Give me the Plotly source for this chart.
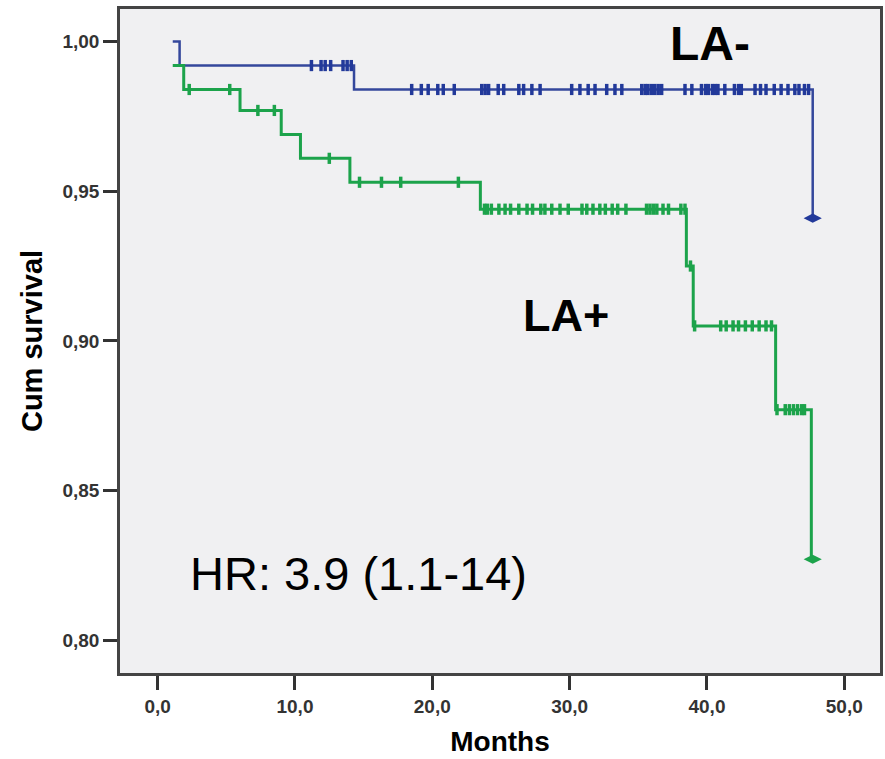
import numpy as np
import plotly.graph_objects as go

# ---------------- data ----------------
# LA- (blue) Kaplan-Meier steps
blue_times = [1.1, 1.6, 14.3, 47.7]
blue_surv = [1.000, 0.992, 0.984, 0.941]
blue_censor = [11.2, 11.9, 12.2, 12.6, 13.5, 13.8, 14.1,
               18.5, 19.2, 19.7, 20.4, 20.8, 21.6, 23.6, 23.85, 24.1, 24.8, 25.2,
               26.3, 26.65, 27.25, 27.85, 30.15, 30.75, 31.35, 31.85, 32.7, 33.3,
               33.8, 35.25, 35.5, 35.7, 35.95, 36.2, 36.45, 36.7, 38.4, 38.9, 39.6,
               39.9, 40.1, 40.4, 40.6, 40.8, 41.3, 42.0, 42.3, 42.5, 43.5, 43.9,
               44.3, 44.9, 45.4, 45.9, 46.4, 46.7, 47.1, 47.4]
blue_end = (47.7, 0.941)

# LA+ (green) Kaplan-Meier steps
green_times = [1.1, 1.9, 6.0, 9.0, 10.4, 14.0, 23.5, 38.5, 39.0, 45.0, 47.6]
green_surv = [0.992, 0.984, 0.977, 0.969, 0.961, 0.953, 0.944, 0.925, 0.905, 0.877, 0.827]
green_censor = [2.3, 5.25, 7.3, 8.5, 12.5, 14.7, 16.3, 17.7, 21.9,
                23.8, 24.0, 24.3, 24.85, 25.3, 25.7, 26.3, 26.9, 27.3, 27.9, 28.2,
                28.7, 29.3, 29.9, 30.9, 31.25, 31.7, 32.2, 32.6, 33.1, 33.5, 34.1,
                35.6, 35.85, 36.1, 36.35, 36.8, 37.2, 38.1, 38.4, 38.8, 39.1,
                41.0, 41.4, 41.9, 42.3, 42.8, 43.3, 43.8, 44.3, 44.7,
                45.1, 45.7, 46.0, 46.3, 46.6, 46.9, 47.1]
green_end = (47.7, 0.827)

x_ticks = [0, 10, 20, 30, 40, 50]
x_ticktext = ["0,0", "10,0", "20,0", "30,0", "40,0", "50,0"]
y_ticks = [0.80, 0.85, 0.90, 0.95, 1.00]
y_ticktext = ["0,80", "0,85", "0,90", "0,95", "1,00"]

labels = {"neg": "LA-", "pos": "LA+", "hr": "HR: 3.9 (1.1-14)"}

BLUE_LINE = "#34479c"
BLUE_MARK = "#22399a"
GREEN = "#1ca34b"


def level_at(times, surv, t):
    idx = np.searchsorted(np.array(times), t, side="right") - 1
    idx = max(idx, 0)
    return surv[idx]


fig = go.Figure()

fig.add_trace(go.Scatter(x=blue_times, y=blue_surv, mode="lines", line_shape="hv",
                         line=dict(color=BLUE_LINE, width=2.5), hoverinfo="skip",
                         showlegend=False, name="LA-"))
fig.add_trace(go.Scatter(x=green_times, y=green_surv, mode="lines", line_shape="hv",
                         line=dict(color=GREEN, width=3), hoverinfo="skip",
                         showlegend=False, name="LA+"))

fig.add_trace(go.Scatter(x=blue_censor,
                         y=[level_at(blue_times, blue_surv, t) for t in blue_censor],
                         mode="markers",
                         marker=dict(symbol="line-ns", size=8,
                                     line=dict(color=BLUE_MARK, width=3.5)),
                         showlegend=False, name="LA- censored"))
fig.add_trace(go.Scatter(x=green_censor,
                         y=[level_at(green_times, green_surv, t) for t in green_censor],
                         mode="markers",
                         marker=dict(symbol="line-ns", size=8,
                                     line=dict(color=GREEN, width=3.5)),
                         showlegend=False, name="LA+ censored"))
fig.add_trace(go.Scatter(x=[blue_end[0]], y=[blue_end[1]], mode="markers",
                         marker=dict(symbol="diamond-wide", size=13, color=BLUE_MARK),
                         showlegend=False))
fig.add_trace(go.Scatter(x=[green_end[0]], y=[green_end[1]], mode="markers",
                         marker=dict(symbol="diamond-wide", size=13, color=GREEN),
                         showlegend=False))

FONT = "Liberation Sans, Arial, sans-serif"

fig.add_annotation(x=40.2, y=0.9995, text="<b>" + labels["neg"] + "</b>", showarrow=False,
                   font=dict(family=FONT, size=48, color="black"))
fig.add_annotation(x=29.7, y=0.9085, text="<b>" + labels["pos"] + "</b>", showarrow=False,
                   font=dict(family=FONT, size=45, color="black"))
fig.add_annotation(x=14.6, y=0.8222, text=labels["hr"], showarrow=False,
                   font=dict(family=FONT, size=47, color="black"))

fig.update_layout(
    width=885, height=759,
    margin=dict(l=120, r=2, t=9, b=86),
    paper_bgcolor="white",
    plot_bgcolor="#f0f0f2",
    font=dict(family=FONT),
)
fig.update_xaxes(range=[-2.74, 52.6], tickvals=x_ticks, ticktext=x_ticktext,
                 showgrid=False, zeroline=False, showline=True, mirror=True,
                 linecolor="#444444", linewidth=2.5,
                 ticks="outside", ticklen=14, tickwidth=3, tickcolor="#333333",
                 tickfont=dict(family=FONT, size=19, color="#333333", weight="bold"),
                 title=dict(text="<b>Months</b>", standoff=16,
                            font=dict(family=FONT, size=28, color="black")))
fig.update_yaxes(range=[0.789, 1.0109], tickvals=y_ticks, ticktext=y_ticktext,
                 showgrid=False, zeroline=False, showline=True, mirror=True,
                 linecolor="#444444", linewidth=2.5,
                 ticks="outside", ticklen=14, tickwidth=3, tickcolor="#333333",
                 tickfont=dict(family=FONT, size=19, color="#333333", weight="bold"),
                 title=dict(text="<b>Cum survival</b>", standoff=12,
                            font=dict(family=FONT, size=29, color="black")))

fig.write_html("out.html")
